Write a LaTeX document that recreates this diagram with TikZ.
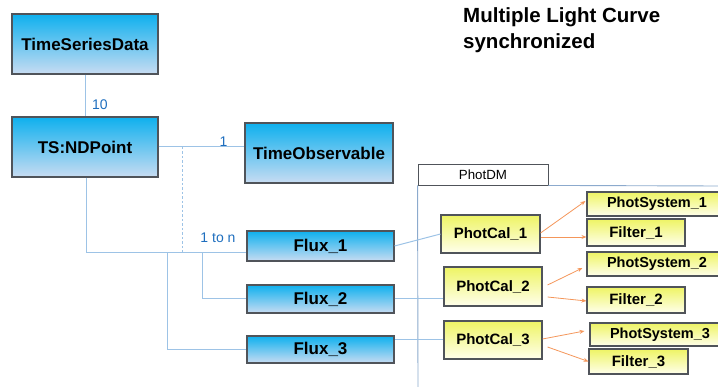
\documentclass[tikz,border=0pt]{standalone}
\usepackage{fontspec}
\setmainfont{Liberation Sans}
\usetikzlibrary{arrows.meta}
\definecolor{bluetop}{RGB}{14,176,238}
\definecolor{bluebot}{RGB}{200,220,242}
\definecolor{yeltop}{RGB}{238,244,100}
\definecolor{yelbot}{RGB}{255,255,236}
\definecolor{boxline}{RGB}{80,84,90}
\definecolor{connc}{RGB}{157,195,230}
\definecolor{labc}{RGB}{30,110,190}
\definecolor{arrc}{RGB}{244,150,90}
\definecolor{framec}{RGB}{140,170,205}
\tikzset{
  bluebox/.style={draw=boxline, line width=1.1pt, top color=bluetop, bottom color=bluebot,
    inner sep=0pt, font=\fontsize{17}{20}\selectfont\bfseries},
  yelbox/.style={draw=boxline, line width=1.1pt, top color=yeltop, bottom color=yelbot,
    inner sep=0pt, font=\fontsize{15}{18}\selectfont\bfseries},
  conn/.style={draw=connc, line width=1pt},
  lab/.style={text=labc, inner sep=0pt, font=\fontsize{14}{16}\selectfont},
  orarrow/.style={draw=arrc, line width=0.8pt, -{Stealth[length=5pt,width=4pt]}},
}
\begin{document}
\begin{tikzpicture}[x=1pt,y=-1pt]
\useasboundingbox (0,0) rectangle (718,387);
% title
\node[anchor=north west, align=left, inner sep=0pt,
  font=\fontsize{20.5}{26}\selectfont\bfseries] (title) at (463,7)
  {Multiple Light Curve\\synchronized};
% blue boxes
\node[bluebox, minimum width=146pt, minimum height=60pt] (tsd) at (85,44) {TimeSeriesData};
\node[bluebox, minimum width=146pt, minimum height=60pt] (ndp) at (85,147) {TS:NDPoint};
\node[bluebox, minimum width=148pt, minimum height=60pt] (tob) at (319,153) {TimeObservable};
\node[bluebox, minimum width=147pt, minimum height=30pt] (flux1) at (320.5,246) {Flux\_1};
\node[bluebox, minimum width=147pt, minimum height=28pt] (flux2) at (320.5,299) {Flux\_2};
\node[bluebox, minimum width=147pt, minimum height=27pt] (flux3) at (320.5,349.5) {Flux\_3};
% package frame
\node[draw=boxline, line width=0.9pt, fill=white, minimum width=130pt, minimum height=21pt,
  inner sep=0pt, font=\fontsize{13.3}{15}\selectfont] (pdm) at (483,174.5) {PhotDM};
\coordinate (frr) at (718,186);
\coordinate (frb) at (418,387);
\draw[draw=framec, line width=0.9pt] (pdm.south east) -- (frr);
\draw[draw=framec, line width=0.9pt] (pdm.south west) -- (frb);
% yellow boxes
\node[yelbox, minimum width=99pt, minimum height=38pt] (pc1) at (490.5,234) {PhotCal\_1};
\node[yelbox, minimum width=98pt, minimum height=39pt] (pc2) at (493,286.5) {PhotCal\_2};
\node[yelbox, minimum width=98pt, minimum height=38pt] (pc3) at (493,340) {PhotCal\_3};
\node[yelbox, minimum width=140pt, minimum height=24pt, font=\fontsize{14.5}{17}\selectfont\bfseries] (ps1) at (657,204) {PhotSystem\_1};
\node[yelbox, minimum width=98pt, minimum height=27pt] (f1) at (636,232.5) {Filter\_1};
\node[yelbox, minimum width=140pt, minimum height=24pt, font=\fontsize{14.5}{17}\selectfont\bfseries] (ps2) at (657,264) {PhotSystem\_2};
\node[yelbox, minimum width=98pt, minimum height=26pt] (f2) at (636,300) {Filter\_2};
\node[yelbox, minimum width=140pt, minimum height=23pt, font=\fontsize{14.5}{17}\selectfont\bfseries] (ps3) at (660,334.5) {PhotSystem\_3};
\node[yelbox, minimum width=99pt, minimum height=25pt] (f3) at (638.5,361.5) {Filter\_3};
% connectors left part
\draw[conn] (tsd.south) -- (ndp.north);
\draw[conn] (ndp.east) -- (ndp.east -| tob.west);
\coordinate (jl) at (86,253);
\coordinate (jd) at (182,147);
\coordinate (j2) at (202,253);
\coordinate (j3) at (167,253);
\draw[conn] (ndp.south -| jl) -- (jl) -- (jl -| flux1.west);
\draw[conn, line width=0.8pt, dash pattern=on 2.5pt off 2pt] (jd) -- (jd |- jl);
\draw[conn] (j2) -- (j2 |- flux2.west) -- (flux2.west);
\draw[conn] (j3) -- (j3 |- flux3.west) -- (flux3.west);
% labels
\node[lab, anchor=west] (l10) at (92,105) {10};
\node[lab] (l1) at (223.5,142) {1};
\node[lab] (l1n) at (218,238) {1 to n};
% flux to photcal
\draw[conn] (flux1.east) -- (pc1.west);
\draw[conn] (flux2.east) -- (flux2.east -| pc2.west);
\draw[conn] (pc3.west) -- (pc3.west -| flux3.east);
% orange arrows
\draw[orarrow] ([yshift=1pt]pc1.east) -- ([xshift=-1pt,yshift=3pt]ps1.west);
\draw[orarrow] ([yshift=-3pt]pc1.east) -- ([yshift=-4.5pt]f1.west);
\draw[orarrow] ([xshift=5pt,yshift=1.5pt]pc2.east) -- ([xshift=-4pt,yshift=-4pt]ps2.west);
\draw[orarrow] ([xshift=5pt,yshift=-10.5pt]pc2.east) -- ([yshift=-1pt]f2.west);
\draw[orarrow] ([yshift=1pt]pc3.east) -- ([xshift=-5pt,yshift=3.5pt]ps3.west);
\draw[orarrow] ([xshift=5pt,yshift=-7pt]pc3.east) -- (f3.west);
\end{tikzpicture}
\end{document}
